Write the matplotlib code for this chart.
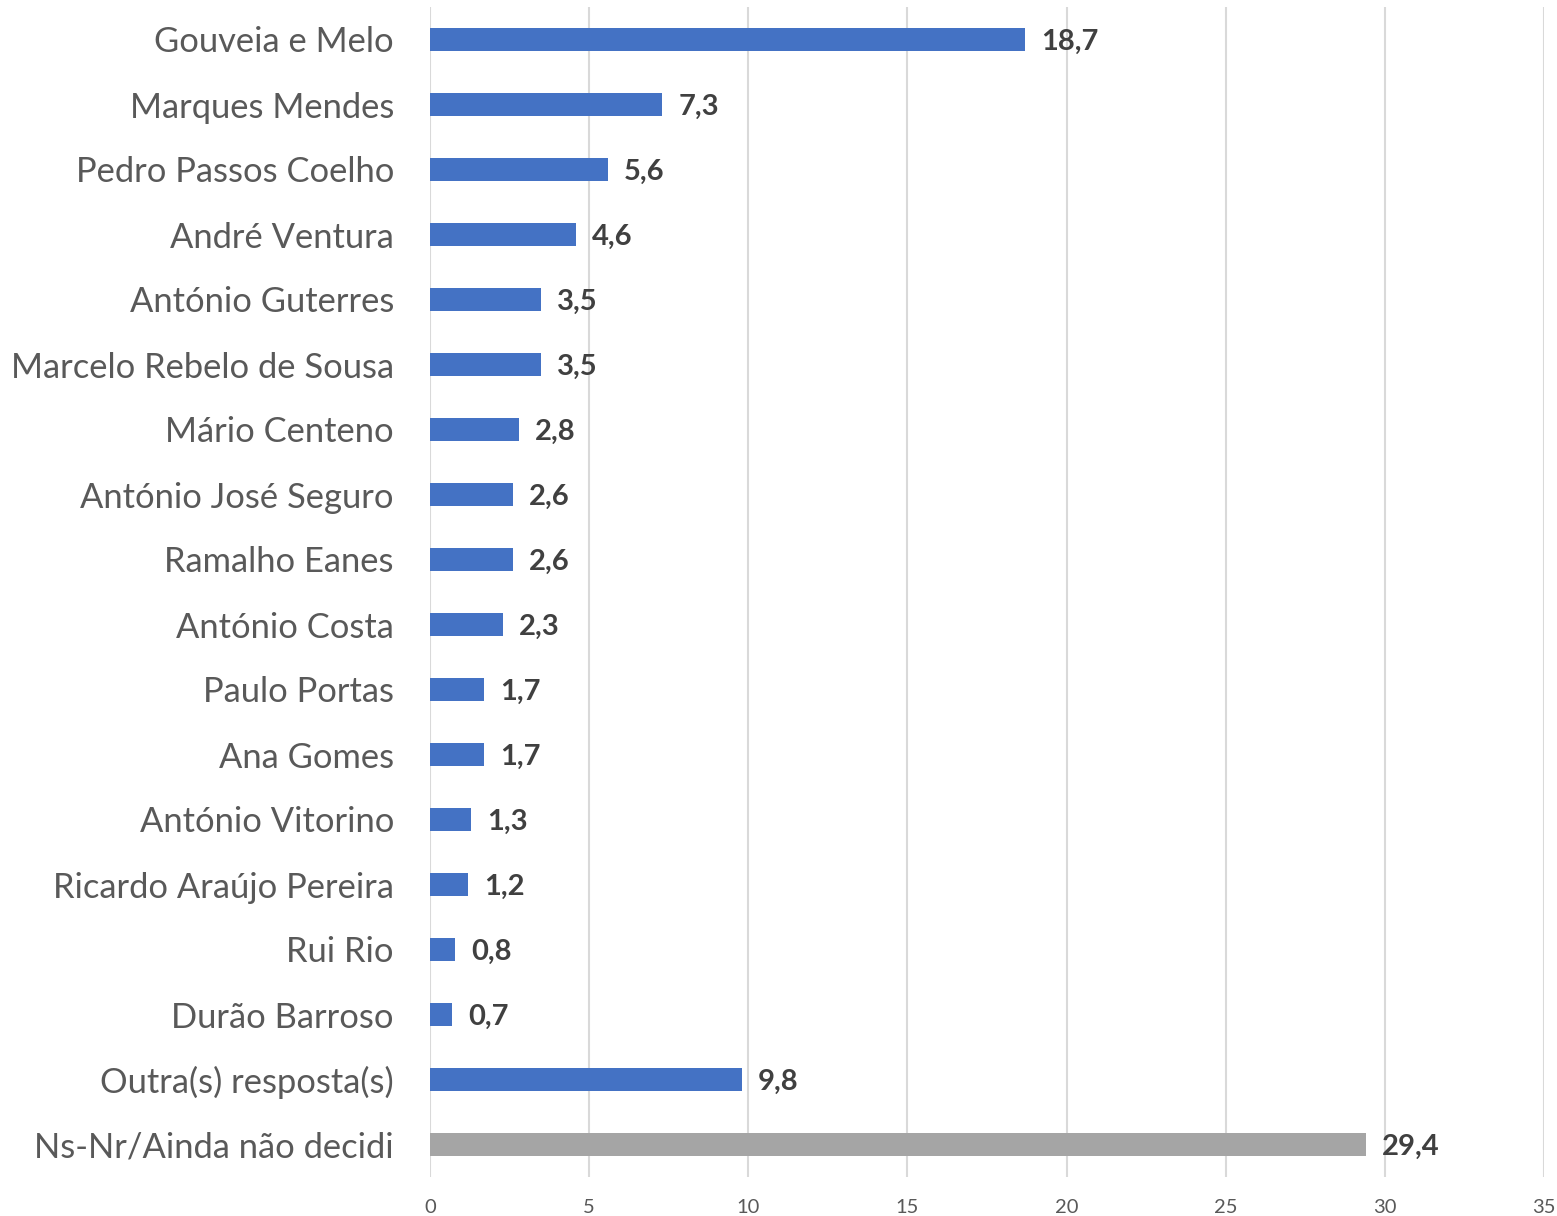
import numpy as np
import matplotlib
matplotlib.use("Agg")
import matplotlib.pyplot as plt

plt.rcParams['font.family'] = ['Lato', 'DejaVu Sans']

# data (top to bottom)
names = ["Gouveia e Melo", "Marques Mendes", "Pedro Passos Coelho", "André Ventura",
         "António Guterres", "Marcelo Rebelo de Sousa", "Mário Centeno",
         "António José Seguro", "Ramalho Eanes", "António Costa", "Paulo Portas",
         "Ana Gomes", "António Vitorino", "Ricardo Araújo Pereira", "Rui Rio",
         "Durão Barroso", "Outra(s) resposta(s)", "Ns-Nr/Ainda não decidi"]
values = [18.7, 7.3, 5.6, 4.6, 3.5, 3.5, 2.8, 2.6, 2.6, 2.3, 1.7, 1.7, 1.3, 1.2,
          0.8, 0.7, 9.8, 29.4]
colors = ["#4472C4"] * 17 + ["#A5A5A5"]
xticks = [0, 5, 10, 15, 20, 25, 30, 35]

fig = plt.figure(figsize=(15.57, 12.16), dpi=100)
ax = fig.add_axes([430 / 1557, 1 - 1177 / 1216, (1544 - 430) / 1557, (1177 - 7) / 1216])

y = np.arange(len(names))
ax.barh(y, values, height=0.35, color=colors, zorder=3)
ax.set_ylim(len(names) - 0.5, -0.5)
ax.set_xlim(0, 35)
ax.set_xticks(xticks)
ax.set_xticklabels([str(t) for t in xticks], fontsize=14.5, color="#595959")
ax.set_yticks(y)
ax.set_yticklabels(names, fontsize=24.8, color="#595959")
ax.tick_params(axis='both', length=0)
ax.tick_params(axis='y', pad=26)
ax.tick_params(axis='x', pad=16)
ax.grid(axis='x', color="#D9D9D9", linewidth=1.5, zorder=0)
for s in ax.spines.values():
    s.set_visible(False)

for yi, v in zip(y, values):
    ax.text(v + 0.5, yi + 0.03, f"{v:.1f}".replace(".", ","), va='center', ha='left',
            fontsize=21, fontweight='bold', color="#404040", zorder=4)

fig.savefig("out.png", dpi=100)
